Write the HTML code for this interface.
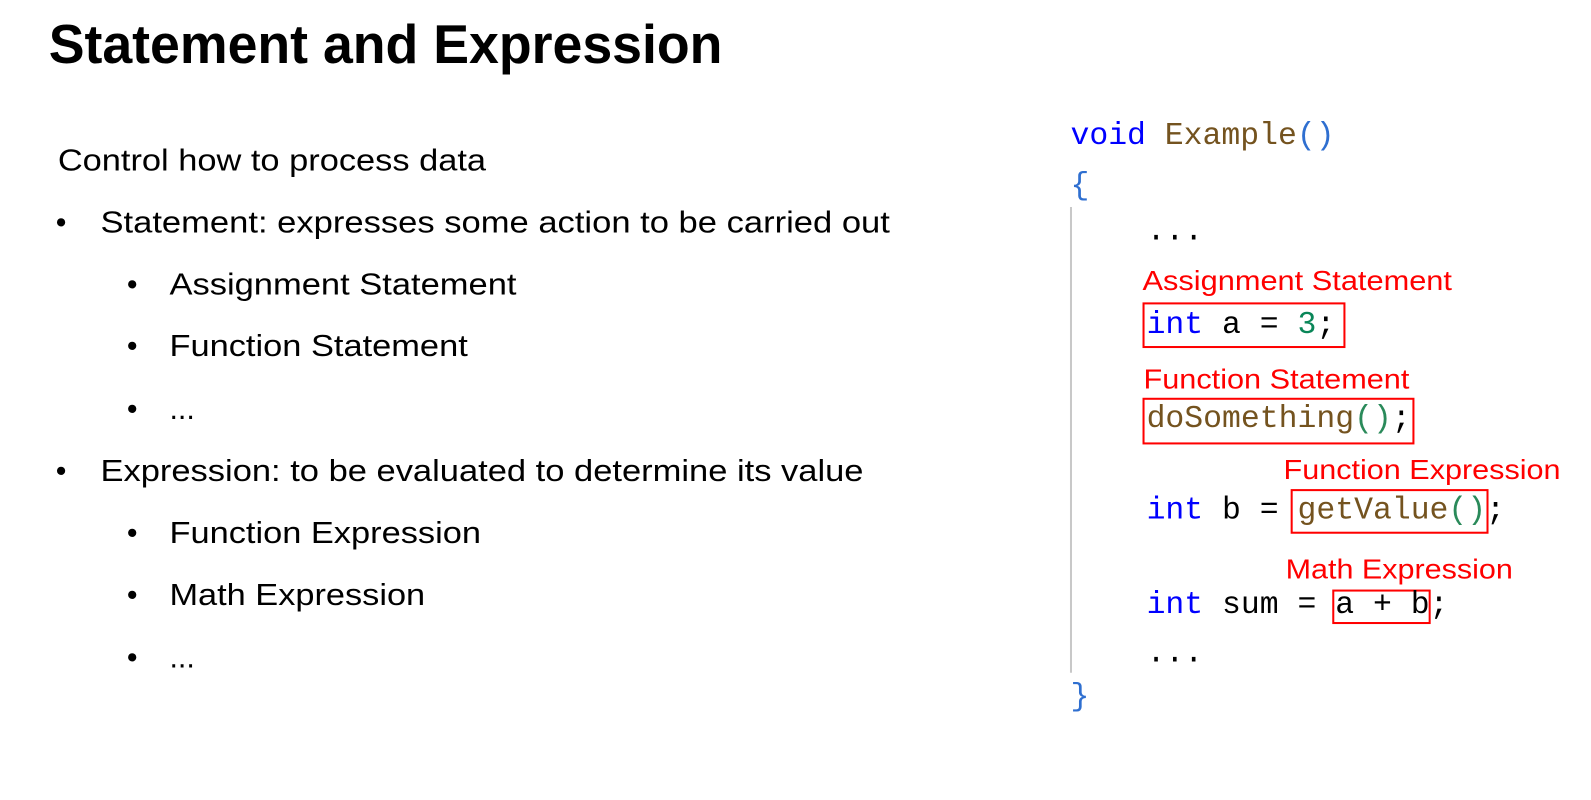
<!DOCTYPE html>
<html><head><meta charset="utf-8"><style>
html,body{margin:0;padding:0;background:#fff;}
svg{display:block;}
.t{font-family:"Liberation Sans",Arial,sans-serif;font-size:30px;fill:#000;}
.r{font-family:"Liberation Sans",Arial,sans-serif;font-size:27px;fill:#ff0000;}
.c{font-family:"Liberation Mono",monospace;font-size:31px;}
.k{fill:#0000ff;} .f{fill:#74531f;} .n{fill:#098658;} .b{fill:#000;} .p{fill:#2f6fd0;} .g{fill:#2a8a5a;}
</style></head><body>
<svg width="1591" height="800" viewBox="0 0 1568 788.4" preserveAspectRatio="none" xmlns="http://www.w3.org/2000/svg">
<text x="48" y="62" font-family="Liberation Sans, Arial, sans-serif" font-weight="bold" font-size="54" textLength="664" lengthAdjust="spacingAndGlyphs">Statement and Expression</text>
<text class="t" x="57" y="168" textLength="422" lengthAdjust="spacingAndGlyphs">Control how to process data</text>
<text class="t" x="55" y="229">•</text>
<text class="t" x="99" y="229" textLength="778" lengthAdjust="spacingAndGlyphs">Statement: expresses some action to be carried out</text>
<text class="t" x="125" y="290">•</text>
<text class="t" x="167" y="290" textLength="342" lengthAdjust="spacingAndGlyphs">Assignment Statement</text>
<text class="t" x="125" y="351">•</text>
<text class="t" x="167" y="351" textLength="294" lengthAdjust="spacingAndGlyphs">Function Statement</text>
<text class="t" x="125" y="413">•</text>
<text class="t" x="167" y="413">...</text>
<text class="t" x="55" y="474">•</text>
<text class="t" x="99" y="474" textLength="752" lengthAdjust="spacingAndGlyphs">Expression: to be evaluated to determine its value</text>
<text class="t" x="125" y="535">•</text>
<text class="t" x="167" y="535" textLength="307" lengthAdjust="spacingAndGlyphs">Function Expression</text>
<text class="t" x="125" y="596">•</text>
<text class="t" x="167" y="596" textLength="252" lengthAdjust="spacingAndGlyphs">Math Expression</text>
<text class="t" x="125" y="658">•</text>
<text class="t" x="167" y="658">...</text>

<line x1="1055.5" y1="204" x2="1055.5" y2="663" stroke="#c8c8c8" stroke-width="2"/>
<text class="c" x="1055" y="142"><tspan class="k">void</tspan><tspan class="f"> Example</tspan><tspan class="p">()</tspan></text>
<text class="c p" x="1055" y="191">{</text>
<text class="c b" x="1130" y="236">...</text>
<text class="r" x="1126" y="286" textLength="305" lengthAdjust="spacingAndGlyphs">Assignment Statement</text>
<rect x="1127" y="299" width="198" height="43" fill="none" stroke="#ff0000" stroke-width="2"/>
<text class="c" x="1130" y="328"><tspan class="k">int</tspan><tspan class="b"> a = </tspan><tspan class="n">3</tspan><tspan class="b">;</tspan></text>
<text class="r" x="1127" y="383" textLength="262" lengthAdjust="spacingAndGlyphs">Function Statement</text>
<rect x="1127" y="393" width="266" height="44" fill="none" stroke="#ff0000" stroke-width="2"/>
<text class="c" x="1130" y="421"><tspan class="f">doSomething</tspan><tspan class="g">()</tspan><tspan class="b">;</tspan></text>
<text class="r" x="1265" y="472" textLength="273" lengthAdjust="spacingAndGlyphs">Function Expression</text>
<rect x="1273" y="483" width="193" height="42" fill="none" stroke="#ff0000" stroke-width="2"/>
<text class="c" x="1130" y="511"><tspan class="k">int</tspan><tspan class="b"> b = </tspan><tspan class="f">getValue</tspan><tspan class="g">()</tspan><tspan class="b">;</tspan></text>
<text class="r" x="1267" y="570" textLength="224" lengthAdjust="spacingAndGlyphs">Math Expression</text>
<rect x="1314" y="582" width="95" height="32" fill="none" stroke="#ff0000" stroke-width="2"/>
<text class="c" x="1130" y="604"><tspan class="k">int</tspan><tspan class="b"> sum = a + b;</tspan></text>
<text class="c b" x="1130" y="652">...</text>
<text class="c p" x="1055" y="695">}</text>
</svg>
</body></html>
